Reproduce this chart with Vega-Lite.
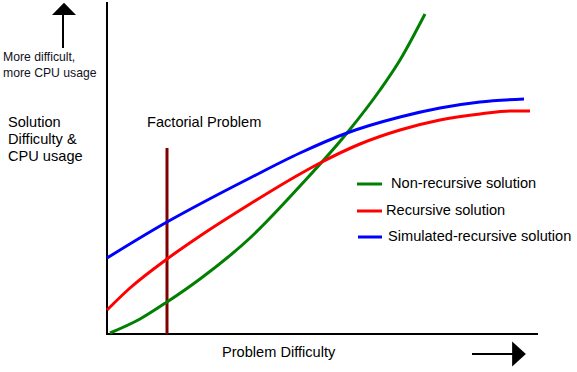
{
  "$schema": "https://vega.github.io/schema/vega-lite/v6.json",
  "width": 577,
  "height": 372,
  "padding": 0,
  "autosize": {"type": "fit", "contains": "padding"},
  "background": "white",
  "config": {"view": {"stroke": null}, "axis": {"disable": true}},
  "datasets": {
    "curves": [
      {"s": "Non-recursive solution", "x": 110, "y": 39},
      {"s": "Non-recursive solution", "x": 140, "y": 53},
      {"s": "Non-recursive solution", "x": 167, "y": 70},
      {"s": "Non-recursive solution", "x": 200, "y": 93},
      {"s": "Non-recursive solution", "x": 250, "y": 134},
      {"s": "Non-recursive solution", "x": 300, "y": 186},
      {"s": "Non-recursive solution", "x": 347, "y": 239},
      {"s": "Non-recursive solution", "x": 380, "y": 282},
      {"s": "Non-recursive solution", "x": 400, "y": 312},
      {"s": "Non-recursive solution", "x": 415, "y": 339},
      {"s": "Non-recursive solution", "x": 425, "y": 358},
      {"s": "Recursive solution", "x": 107, "y": 62},
      {"s": "Recursive solution", "x": 130, "y": 84},
      {"s": "Recursive solution", "x": 167, "y": 113},
      {"s": "Recursive solution", "x": 200, "y": 136},
      {"s": "Recursive solution", "x": 250, "y": 168},
      {"s": "Recursive solution", "x": 300, "y": 198},
      {"s": "Recursive solution", "x": 320, "y": 209},
      {"s": "Recursive solution", "x": 360, "y": 228},
      {"s": "Recursive solution", "x": 400, "y": 242},
      {"s": "Recursive solution", "x": 440, "y": 252},
      {"s": "Recursive solution", "x": 480, "y": 258},
      {"s": "Recursive solution", "x": 510, "y": 261},
      {"s": "Recursive solution", "x": 530, "y": 261},
      {"s": "Simulated-recursive solution", "x": 107, "y": 114},
      {"s": "Simulated-recursive solution", "x": 167, "y": 150},
      {"s": "Simulated-recursive solution", "x": 200, "y": 168},
      {"s": "Simulated-recursive solution", "x": 250, "y": 194},
      {"s": "Simulated-recursive solution", "x": 300, "y": 219},
      {"s": "Simulated-recursive solution", "x": 347, "y": 239},
      {"s": "Simulated-recursive solution", "x": 400, "y": 255},
      {"s": "Simulated-recursive solution", "x": 440, "y": 264},
      {"s": "Simulated-recursive solution", "x": 480, "y": 270},
      {"s": "Simulated-recursive solution", "x": 524, "y": 273}
    ]
  },
  "layer": [
    {
      "data": {"values": [
        {"x": 107, "x2": 107, "y": 38, "y2": 370},
        {"x": 106, "x2": 538, "y": 38, "y2": 38},
        {"x": 472, "x2": 514, "y": 18, "y2": 18},
        {"x": 63, "x2": 63, "y": 324, "y2": 358}
      ]},
      "mark": {"type": "rule", "color": "black", "strokeWidth": 2},
      "encoding": {
        "x": {"field": "x", "type": "quantitative", "scale": {"domain": [0, 577], "nice": false, "zero": false}},
        "x2": {"field": "x2"},
        "y": {"field": "y", "type": "quantitative", "scale": {"domain": [0, 372], "nice": false, "zero": false}},
        "y2": {"field": "y2"}
      }
    },
    {
      "data": {"values": [{"x": 167, "y": 38, "y2": 224}]},
      "mark": {"type": "rule", "color": "#800000", "strokeWidth": 3},
      "encoding": {
        "x": {"field": "x", "type": "quantitative"},
        "y": {"field": "y", "type": "quantitative"},
        "y2": {"field": "y2"}
      }
    },
    {
      "data": {"name": "curves"},
      "mark": {"type": "line", "strokeWidth": 3, "interpolate": "monotone"},
      "encoding": {
        "x": {"field": "x", "type": "quantitative"},
        "y": {"field": "y", "type": "quantitative"},
        "color": {"field": "s", "type": "nominal", "legend": null,
          "scale": {"domain": ["Non-recursive solution", "Recursive solution", "Simulated-recursive solution"], "range": ["#008000", "#ff0000", "#0000ff"]}}
      }
    },
    {
      "data": {"values": [
        {"s": "Non-recursive solution", "x": 357, "x2": 382, "y": 188},
        {"s": "Recursive solution", "x": 357, "x2": 382, "y": 161},
        {"s": "Simulated-recursive solution", "x": 358, "x2": 382, "y": 135}
      ]},
      "mark": {"type": "rule", "strokeWidth": 3},
      "encoding": {
        "x": {"field": "x", "type": "quantitative"},
        "x2": {"field": "x2"},
        "y": {"field": "y", "type": "quantitative"},
        "color": {"field": "s", "type": "nominal", "legend": null}
      }
    },
    {
      "data": {"values": [
        {"d": "up", "x": 64, "y": 363},
        {"d": "right", "x": 519, "y": 18}
      ]},
      "mark": {"type": "point", "filled": true, "color": "black", "opacity": 1, "size": 625, "strokeWidth": 0},
      "encoding": {
        "x": {"field": "x", "type": "quantitative"},
        "y": {"field": "y", "type": "quantitative"},
        "shape": {"field": "d", "type": "nominal", "legend": null,
          "scale": {"domain": ["up", "right"], "range": ["M -0.96 0.48 L 0 -0.5 L 0.96 0.48 Z", "M -0.55 -1 L 0.55 0 L -0.55 1 Z"]}}
      }
    },
    {
      "data": {"values": [
        {"t": "Non-recursive solution", "x": 391, "y": 188},
        {"t": "Recursive solution", "x": 386, "y": 161},
        {"t": "Simulated-recursive solution", "x": 388, "y": 135},
        {"t": "Factorial Problem", "x": 147, "y": 249},
        {"t": "Problem Difficulty", "x": 222, "y": 19},
        {"t": "Solution", "x": 8, "y": 249},
        {"t": "Difficulty &", "x": 8, "y": 232},
        {"t": "CPU usage", "x": 8, "y": 215}
      ]},
      "mark": {"type": "text", "align": "left", "baseline": "middle", "font": "Liberation Sans", "fontSize": 14.6, "color": "black"},
      "encoding": {
        "x": {"field": "x", "type": "quantitative"},
        "y": {"field": "y", "type": "quantitative"},
        "text": {"field": "t"}
      }
    },
    {
      "data": {"values": [
        {"t": "More difficult,", "x": 3, "y": 315},
        {"t": "more CPU usage", "x": 3, "y": 299}
      ]},
      "mark": {"type": "text", "align": "left", "baseline": "middle", "font": "Liberation Sans", "fontSize": 12.2, "color": "#111122"},
      "encoding": {
        "x": {"field": "x", "type": "quantitative"},
        "y": {"field": "y", "type": "quantitative"},
        "text": {"field": "t"}
      }
    }
  ]
}
